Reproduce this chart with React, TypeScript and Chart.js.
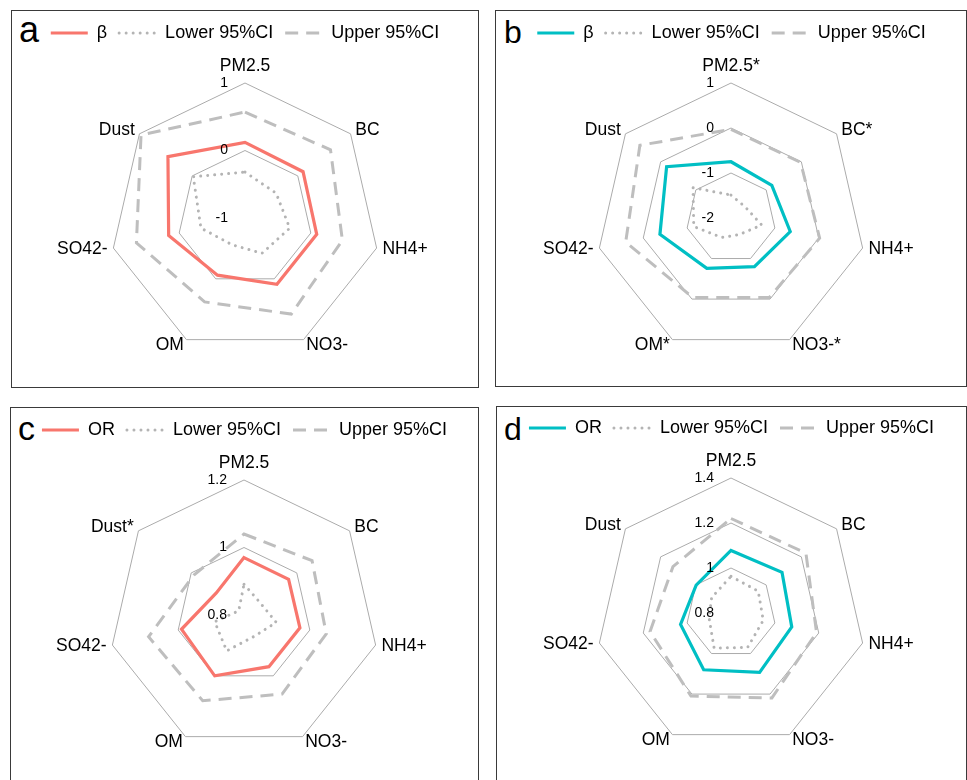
import React, { useEffect, useRef } from 'react';
import { Chart, registerables } from 'chart.js';

Chart.register(...registerables);

const FONT = "'Liberation Sans', Arial, Helvetica, sans-serif";

// ---------- data ----------
const categoriesA = ['PM2.5', 'BC', 'NH4+', 'NO3-', 'OM', 'SO42-', 'Dust'];
const categoriesB = ['PM2.5*', 'BC*', 'NH4+', 'NO3-*', 'OM*', 'SO42-', 'Dust'];
const categoriesC = ['PM2.5', 'BC', 'NH4+', 'NO3-', 'OM', 'SO42-', 'Dust*'];
const categoriesD = ['PM2.5', 'BC', 'NH4+', 'NO3-', 'OM', 'SO42-', 'Dust'];

const betaA = [0.12, 0.10, 0.09, 0.09, -0.06, 0.16, 0.46];
const lowerA = [-0.32, -0.41, -0.32, -0.42, -0.56, -0.33, -0.02];
const upperA = [0.57, 0.62, 0.48, 0.58, 0.38, 0.65, 0.97];

const betaB = [-0.75, -0.84, -0.65, -0.80, -0.76, -0.38, -0.17];
const lowerB = [-1.49, -1.60, -1.30, -1.59, -1.52, -1.15, -0.92];
const upperB = [-0.03, -0.02, 0.02, -0.04, -0.04, 0.40, 0.59];

const orC = [0.970, 0.969, 0.970, 0.970, 1.000, 0.990, 0.905];
const lowerC = [0.891, 0.860, 0.898, 0.870, 0.918, 0.889, 0.820];
const upperC = [1.040, 1.058, 1.050, 1.060, 1.082, 1.090, 0.990];

const orD = [1.078, 1.090, 1.077, 1.093, 1.080, 1.030, 0.998];
const lowerD = [0.963, 0.955, 0.947, 0.970, 0.973, 0.900, 0.910];
const upperD = [1.220, 1.226, 1.190, 1.219, 1.210, 1.169, 1.130];

const ticksA = [-1, 0, 1];
const tickLabelsA = ['-1', '0', '1'];
const ticksB = [-2, -1, 0, 1];
const tickLabelsB = ['-2', '-1', '0', '1'];
const ticksC = [0.8, 1.0, 1.2];
const tickLabelsC = ['0.8', '1', '1.2'];
const ticksD = [0.8, 1.0, 1.2, 1.4];
const tickLabelsD = ['0.8', '1', '1.2', '1.4'];

const seriesLabels = ['β', 'OR'];
const ciLabels = ['Lower 95%CI', 'Upper 95%CI'];

// ---------- styles ----------
const RED = '#F8766D';
const TEAL = '#00BFC4';
const GRAY_DASH = '#BEBEBE';
const GRAY_DOT = '#B4B4B4';
const GRID = '#ABABAB';

const radarText = {
  id: 'radarText',
  afterDatasetsDraw(chart: any, _args: any, opts: any) {
    const scale = chart.scales.r;
    const ctx = chart.ctx;
    ctx.save();
    ctx.fillStyle = '#000';
    // tick labels
    ctx.font = `14px ${FONT}`;
    ctx.textAlign = 'right';
    ctx.textBaseline = 'middle';
    (opts.tickValues as number[]).forEach((v, i) => {
      const d = scale.getDistanceFromCenterForValue(v);
      ctx.fillText(opts.tickLabels[i], scale.xCenter - 17, scale.yCenter - d);
    });
    // point labels
    ctx.font = `17.5px ${FONT}`;
    (opts.categories as string[]).forEach((label, i) => {
      const p = scale.getPointPosition(i, scale.drawingArea + 6);
      const dx = p.x - scale.xCenter;
      if (i === 0) {
        ctx.textAlign = 'center';
        ctx.textBaseline = 'alphabetic';
        ctx.fillText(label, p.x, p.y - 6);
      } else {
        ctx.textAlign = Math.abs(dx) < 2 ? 'center' : dx > 0 ? 'left' : 'right';
        ctx.textBaseline = 'middle';
        ctx.fillText(label, p.x, p.y);
      }
    });
    ctx.restore();
  },
};

type Spec = {
  letter: string;
  box: { x: number; y: number; w: number; h: number };
  canvas: { x: number; y: number; w: number; h: number };
  letterPos: { x: number; baseline: number; size: number };
  categories: string[];
  est: number[];
  lower: number[];
  upper: number[];
  estLabel: string;
  color: string;
  ticks: number[];
  tickLabels: string[];
};

const specs: Spec[] = [
  {
    letter: 'a',
    box: { x: 11, y: 10, w: 468, h: 378 },
    canvas: { x: 12, y: 12, w: 466, h: 371 },
    letterPos: { x: 19, baseline: 42, size: 36 },
    categories: categoriesA, est: betaA, lower: lowerA, upper: upperA,
    estLabel: seriesLabels[0], color: RED, ticks: ticksA, tickLabels: tickLabelsA,
  },
  {
    letter: 'b',
    box: { x: 495, y: 10, w: 472, h: 377 },
    canvas: { x: 496, y: 12, w: 471, h: 371 },
    letterPos: { x: 504, baseline: 43, size: 32 },
    categories: categoriesB, est: betaB, lower: lowerB, upper: upperB,
    estLabel: seriesLabels[0], color: TEAL, ticks: ticksB, tickLabels: tickLabelsB,
  },
  {
    letter: 'c',
    box: { x: 10, y: 407, w: 469, h: 400 },
    canvas: { x: 11, y: 409, w: 467, h: 371 },
    letterPos: { x: 18, baseline: 440, size: 34 },
    categories: categoriesC, est: orC, lower: lowerC, upper: upperC,
    estLabel: seriesLabels[1], color: RED, ticks: ticksC, tickLabels: tickLabelsC,
  },
  {
    letter: 'd',
    box: { x: 496, y: 406, w: 471, h: 400 },
    canvas: { x: 497, y: 407, w: 469, h: 373 },
    letterPos: { x: 504, baseline: 440, size: 32 },
    categories: categoriesD, est: orD, lower: lowerD, upper: upperD,
    estLabel: seriesLabels[1], color: TEAL, ticks: ticksD, tickLabels: tickLabelsD,
  },
];

function RadarPanel({ spec }: { spec: Spec }) {
  const ref = useRef<HTMLCanvasElement>(null);
  useEffect(() => {
    const ticks = spec.ticks;
    const chart = new Chart(ref.current as HTMLCanvasElement, {
      type: 'radar',
      data: {
        labels: spec.categories,
        datasets: [
          {
            label: spec.estLabel, data: spec.est, borderColor: spec.color, backgroundColor: spec.color,
            borderWidth: 3.2, borderCapStyle: 'butt', fill: false, pointRadius: 0, pointHoverRadius: 0,
          },
          {
            label: ciLabels[0], data: spec.lower, borderColor: GRAY_DOT, backgroundColor: GRAY_DOT,
            borderWidth: 3, borderDash: [0.01, 7], borderCapStyle: 'round', fill: false, pointRadius: 0, pointHoverRadius: 0,
          },
          {
            label: ciLabels[1], data: spec.upper, borderColor: GRAY_DASH, backgroundColor: GRAY_DASH,
            borderWidth: 3, borderDash: [13, 8], borderCapStyle: 'butt', fill: false, pointRadius: 0, pointHoverRadius: 0,
          },
        ],
      } as any,
      options: {
        responsive: false,
        animation: false,
        events: [],
        layout: { padding: { left: 0, right: 0, top: 0, bottom: spec.canvas.h - 341 } },
        scales: {
          r: {
            min: ticks[0],
            max: ticks[ticks.length - 1],
            ticks: { display: false, stepSize: ticks[1] - ticks[0] },
            pointLabels: { display: false },
            angleLines: { display: false },
            grid: { color: GRID, lineWidth: 1 },
          },
        },
        plugins: {
          legend: {
            position: 'top',
            align: 'center',
            labels: {
              usePointStyle: true,
              pointStyle: 'line',
              pointStyleWidth: 37,
              padding: 12,
              color: '#000',
              font: { size: 18, family: FONT },
              generateLabels: (c: any) => {
                const items = (Chart.defaults.plugins.legend.labels as any).generateLabels(c);
                return items.map((it: any) => {
                  const ds = c.data.datasets[it.datasetIndex];
                  return {
                    ...it,
                    pointStyle: 'line',
                    strokeStyle: ds.borderColor,
                    fillStyle: ds.borderColor,
                    lineWidth: ds.borderWidth,
                    lineDash: ds.borderDash || [],
                    lineCap: ds.borderCapStyle || 'butt',
                  };
                });
              },
            },
          },
          title: {
            display: true,
            text: '',
            weight: 500,
            padding: { top: 0, bottom: 21 },
            font: { size: 10, lineHeight: 1 },
          },
          tooltip: { enabled: false },
          radarText: { categories: spec.categories, tickValues: spec.ticks, tickLabels: spec.tickLabels },
        } as any,
      } as any,
      plugins: [radarText],
    });
    return () => chart.destroy();
  }, [spec]);

  const { box, canvas, letterPos } = spec;
  return (
    <>
      <div
        style={{
          position: 'absolute', left: box.x, top: box.y, width: box.w, height: box.h,
          border: '1px solid #3a3a3a', boxSizing: 'border-box',
        }}
      />
      <div
        style={{
          position: 'absolute', left: letterPos.x, top: letterPos.baseline - letterPos.size * 0.8465,
          fontSize: letterPos.size, lineHeight: `${letterPos.size}px`, fontFamily: FONT, color: '#000',
        }}
      >
        {spec.letter}
      </div>
      <canvas
        ref={ref}
        width={canvas.w}
        height={canvas.h}
        style={{ position: 'absolute', left: canvas.x, top: canvas.y, width: canvas.w, height: canvas.h }}
      />
    </>
  );
}

export default function App() {
  return (
    <div
      style={{
        position: 'absolute', left: 0, top: 0, width: 967, height: 780, overflow: 'hidden', background: '#fff',
      }}
    >
      {specs.map((s) => (
        <RadarPanel key={s.letter} spec={s} />
      ))}
    </div>
  );
}
